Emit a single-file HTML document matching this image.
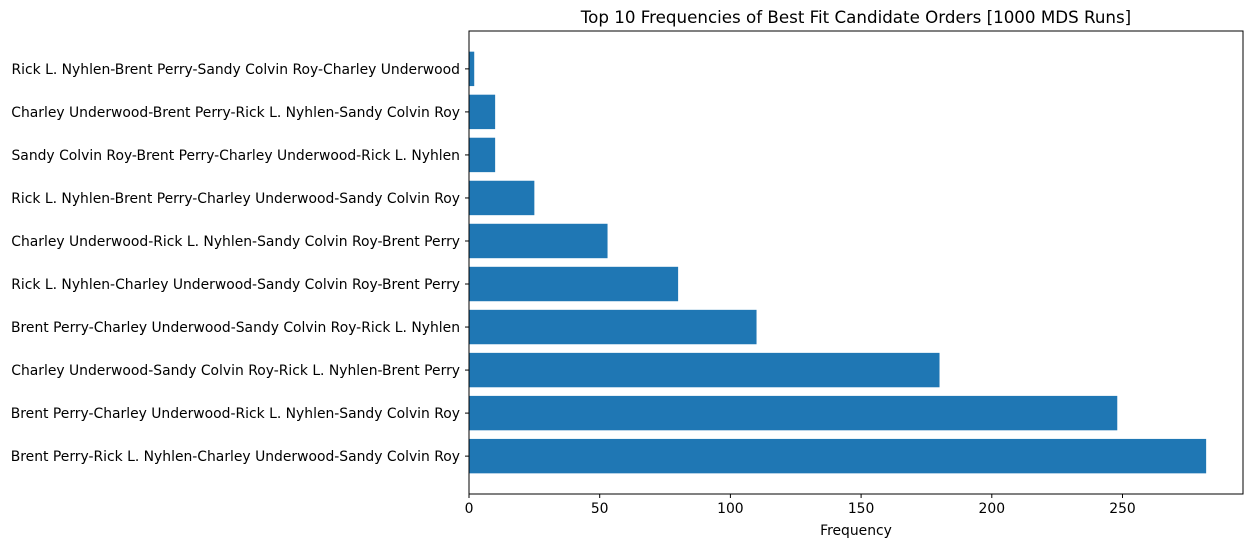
<!DOCTYPE html>
<html><head><meta charset="utf-8"><style>
body{margin:0;background:#fff;font-family:"DejaVu Sans","Liberation Sans",sans-serif;}
svg text{font-family:"DejaVu Sans","Liberation Sans",sans-serif;}
</style></head><body>
<svg id="chart" width="1253" height="547" xmlns="http://www.w3.org/2000/svg">
<rect width="1253" height="547" fill="#fff"/>
<text x="856" y="23" font-size="16.7" text-anchor="middle" fill="#000">Top 10 Frequencies of Best Fit Candidate Orders [1000 MDS Runs]</text>
<text x="856" y="535" font-size="13.9" text-anchor="middle" fill="#000">Frequency</text>
<g id="bars"></g><g id="ticks"></g>
<rect x="469" y="31" width="774" height="463" fill="none" stroke="#000" stroke-width="1"/>
</svg>
<script>
const categories=["Brent Perry-Rick L. Nyhlen-Charley Underwood-Sandy Colvin Roy","Brent Perry-Charley Underwood-Rick L. Nyhlen-Sandy Colvin Roy","Charley Underwood-Sandy Colvin Roy-Rick L. Nyhlen-Brent Perry","Brent Perry-Charley Underwood-Sandy Colvin Roy-Rick L. Nyhlen","Rick L. Nyhlen-Charley Underwood-Sandy Colvin Roy-Brent Perry","Charley Underwood-Rick L. Nyhlen-Sandy Colvin Roy-Brent Perry","Rick L. Nyhlen-Brent Perry-Charley Underwood-Sandy Colvin Roy","Sandy Colvin Roy-Brent Perry-Charley Underwood-Rick L. Nyhlen","Charley Underwood-Brent Perry-Rick L. Nyhlen-Sandy Colvin Roy","Rick L. Nyhlen-Brent Perry-Sandy Colvin Roy-Charley Underwood"];
const frequencies=[282,248,180,110,80,53,25,10,10,2];
const xTicks=[0,50,100,150,200,250];
const NS="http://www.w3.org/2000/svg";
const L=469,R=1243,T=31,B=494;
const xmax=Math.max(...frequencies)*1.05;
const x=v=>L+v/xmax*(R-L);
const n=categories.length;
const ylo=-0.4-0.049*(n-0.2),yhi=n-1+0.4+0.049*(n-0.2);
const y=i=>B-(i-ylo)/(yhi-ylo)*(B-T);
const bw=0.8*(B-T)/(yhi-ylo);
const bars=document.getElementById('bars'),ticks=document.getElementById('ticks');
frequencies.forEach((v,i)=>{
 const r=document.createElementNS(NS,'rect');
 r.setAttribute('x',x(0));r.setAttribute('y',y(i)-bw/2);r.setAttribute('width',x(v)-x(0));r.setAttribute('height',bw);r.setAttribute('fill','#1f77b4');
 
 
 bars.appendChild(r);
 const tk=document.createElementNS(NS,'line');
 tk.setAttribute('x1',L-4);tk.setAttribute('x2',L);tk.setAttribute('y1',y(i));tk.setAttribute('y2',y(i));tk.setAttribute('stroke','#000');
 
 
 ticks.appendChild(tk);
 const t=document.createElementNS(NS,'text');
 t.setAttribute('x',L-9);t.setAttribute('y',y(i)+5);t.setAttribute('font-size','13.9');t.setAttribute('text-anchor','end');
 t.textContent=categories[i];
 
 
 ticks.appendChild(t);
});
xTicks.forEach(v=>{
 const tk=document.createElementNS(NS,'line');
 tk.setAttribute('x1',x(v));tk.setAttribute('x2',x(v));tk.setAttribute('y1',B);tk.setAttribute('y2',B+4);tk.setAttribute('stroke','#000');
 
 
 ticks.appendChild(tk);
 const t=document.createElementNS(NS,'text');
 t.setAttribute('x',x(v));t.setAttribute('y',B+19);t.setAttribute('font-size','13.9');t.setAttribute('text-anchor','middle');
 t.textContent=v;
 
 
 ticks.appendChild(t);
});
</script>
</body></html>
